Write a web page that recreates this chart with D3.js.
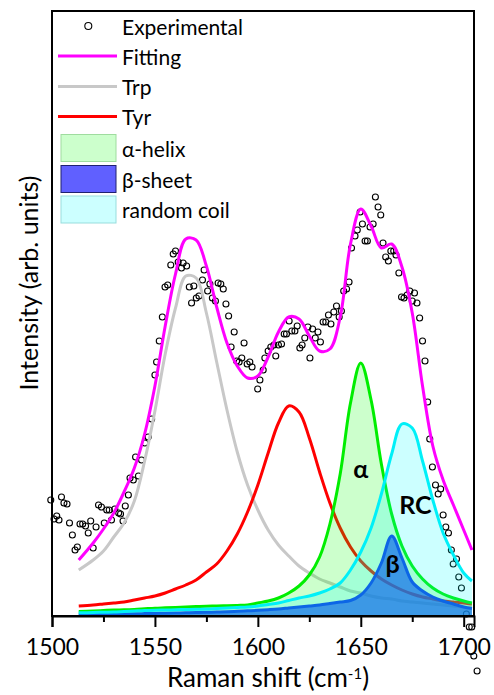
<!DOCTYPE html>
<html>
<head>
<meta charset="utf-8">
<script src="https://cdn.jsdelivr.net/npm/d3@7/dist/d3.min.js"></script>
<style>
  html, body { margin: 0; padding: 0; background: #fff; }
  svg { display: block; }
  text { font-family: Lato, "Open Sans", sans-serif; fill: #000; }
</style>
</head>
<body>
<svg id="chart" width="494" height="695"></svg>
<script>
// ---------- data ----------
const xTicks = [1500, 1550, 1600, 1650, 1700];
const xMinorTicks = [1525, 1575, 1625, 1675];

// experimental points
const expX = [1499.4,1501.0,1502.3,1503.4,1504.6,1505.8,1507.3,1508.5,1509.9,1511.2,1512.3,1513.6,1514.9,1516.3,1517.6,1518.8,1520.0,1521.4,1522.6,1524.0,1525.4,1526.6,1527.8,1528.9,1530.5,1532.4,1533.3,1534.5,1535.6,1537.1,1537.9,1539.5,1540.6,1542.0,1543.5,1545.1,1546.7,1548.4,1550.0,1550.8,1552.1,1553.6,1554.9,1556.2,1557.7,1558.9,1560.0,1561.3,1562.9,1563.7,1565.4,1566.7,1567.8,1568.9,1570.1,1571.4,1573.1,1573.9,1575.6,1576.7,1577.9,1579.4,1580.7,1582.0,1583.2,1584.5,1585.8,1587.0,1588.5,1589.7,1590.9,1592.2,1593.3,1594.8,1596.1,1597.2,1599.9,1601.0,1602.6,1603.4,1605.0,1606.3,1607.8,1608.7,1610.0,1611.5,1612.8,1613.9,1615.2,1616.5,1618.0,1619.1,1620.4,1621.5,1622.8,1624.3,1625.3,1626.6,1627.9,1629.2,1630.4,1631.7,1633.0,1634.3,1635.5,1636.9,1638.2,1639.5,1640.6,1641.7,1643.1,1644.3,1645.5,1647.2,1648.3,1649.7,1650.8,1652.1,1653.2,1654.5,1656.0,1657.1,1658.4,1659.7,1660.8,1662.1,1663.4,1664.6,1666.0,1667.1,1668.5,1669.8,1671.0,1672.5,1673.8,1675.0,1676.1,1677.3,1678.6,1680.0,1681.2,1682.5,1683.5,1684.8,1686.3,1687.6,1688.8,1690.0,1691.3,1692.6,1694.0,1694.9,1696.5,1697.6,1698.9,1701.3,1702.7,1703.9,1704.9,1706.5];
const expY = [1.16,0.97,1.00,0.96,1.19,1.13,1.12,0.93,0.81,0.66,0.69,0.92,0.92,0.90,0.83,0.95,0.68,0.89,1.11,1.09,0.93,1.06,1.06,0.96,1.07,1.03,1.02,0.95,1.10,1.21,1.38,1.36,1.59,1.40,1.56,1.73,1.79,1.97,2.41,2.54,2.75,2.99,3.29,3.31,3.51,3.62,3.65,3.54,3.48,3.53,3.50,3.29,3.13,3.30,3.18,3.20,3.36,3.46,3.25,3.32,3.18,3.15,3.33,3.32,3.27,3.12,3.00,2.69,2.84,2.55,2.54,2.58,2.73,2.52,2.54,2.49,2.27,2.36,2.46,2.58,2.65,2.69,2.71,2.60,2.71,2.72,2.82,2.82,2.95,2.85,2.85,2.90,2.68,2.71,2.78,2.89,2.58,2.87,2.78,2.84,2.74,2.94,2.94,3.01,2.92,3.04,3.10,2.99,3.05,3.25,3.27,3.34,3.68,3.80,3.86,4.04,3.92,3.75,3.75,3.89,3.92,4.19,4.09,4.01,3.73,3.59,3.55,3.65,3.65,3.61,3.43,3.19,3.18,3.21,3.25,3.15,3.23,3.13,2.98,2.75,2.55,2.14,1.77,1.49,1.31,1.22,1.27,1.01,0.89,0.83,0.66,0.52,0.57,0.39,0.28,0.02,-0.11,-0.11,-0.40,-0.55];

// fitted curves, sampled on a shared wavenumber grid
const fitX = [1513,1520,1525,1530,1535,1540,1545,1550,1555,1560,1565,1570,1575,1580,1585,1590,1595,1600,1605,1610,1615,1620,1625,1630,1635,1640,1645,1650,1655,1660,1665,1670,1675,1680,1685,1690,1695,1700,1704];
const fitting = [0.56,0.73,0.87,1.03,1.24,1.48,1.82,2.30,2.90,3.42,3.77,3.76,3.50,3.09,2.73,2.50,2.38,2.40,2.59,2.84,2.99,2.97,2.80,2.65,2.67,2.99,3.72,4.07,3.90,3.68,3.72,3.49,3.03,2.30,1.70,1.36,1.11,0.86,0.66];
const trp = [0.46,0.56,0.65,0.79,0.93,1.15,1.55,2.05,2.62,3.08,3.40,3.38,3.03,2.54,2.06,1.64,1.31,1.06,0.86,0.71,0.60,0.50,0.43,0.37,0.33,0.29,0.25,0.23,0.20,0.18,0.17,0.15,0.14,0.13,0.12,0.11,0.10,0.09,0.09];
const tyr = [0.10,0.11,0.12,0.13,0.14,0.16,0.18,0.20,0.23,0.27,0.31,0.36,0.44,0.52,0.65,0.82,1.04,1.31,1.63,1.93,2.10,2.04,1.78,1.44,1.13,0.88,0.69,0.55,0.45,0.37,0.31,0.26,0.22,0.19,0.17,0.15,0.14,0.13,0.12];
const alphaHelix = [0.045,0.05,0.055,0.06,0.062,0.066,0.072,0.078,0.082,0.086,0.09,0.094,0.098,0.10,0.103,0.106,0.11,0.13,0.15,0.18,0.23,0.30,0.41,0.59,0.92,1.42,2.13,2.53,2.16,1.52,1.02,0.70,0.50,0.37,0.28,0.22,0.18,0.15,0.13];
const betaSheet = [0.015,0.017,0.018,0.02,0.021,0.022,0.024,0.026,0.028,0.03,0.032,0.034,0.037,0.04,0.043,0.047,0.052,0.057,0.063,0.07,0.08,0.09,0.10,0.11,0.125,0.14,0.155,0.21,0.33,0.53,0.80,0.58,0.34,0.25,0.19,0.15,0.12,0.09,0.075];
const randomCoil = [0.032,0.035,0.038,0.04,0.045,0.05,0.055,0.058,0.06,0.062,0.065,0.068,0.07,0.075,0.08,0.085,0.09,0.10,0.115,0.13,0.155,0.18,0.20,0.23,0.27,0.33,0.46,0.64,0.88,1.22,1.62,1.92,1.88,1.55,1.16,0.83,0.61,0.43,0.35];

const legendLabels = ["Experimental", "Fitting", "Trp", "Tyr", "α-helix", "β-sheet", "random coil"];

// ---------- layout ----------
const svg = d3.select("#chart");
const L = 52, R = 474, T = 11, B = 616;
const x = d3.scaleLinear().domain([1500, 1705]).range([L, R]);
const y = d3.scaleLinear().domain([0, 6.05]).range([B, T]);

const pts = arr => fitX.map((d, i) => [d, arr[i]]);
const line = d3.line().x(d => x(d[0])).y(d => y(d[1])).curve(d3.curveCatmullRom.alpha(0.5));
const area = d3.area().x(d => x(d[0])).y0(y(0)).y1(d => y(d[1])).curve(d3.curveCatmullRom.alpha(0.5));

const COL = {
  fit: "#ff00ff", trp: "#c8c8c8", tyr: "#ff0000",
  a: "#00ee00", b: "#1040e0", rc: "#00f0f8"
};

const g = svg.append("g");

// experimental points (bottom layer)
g.selectAll("circle.exp").data(expX.map((d, i) => [d, expY[i]])).enter()
  .append("circle").attr("class", "exp")
  .attr("cx", d => x(d[0])).attr("cy", d => y(d[1])).attr("r", 3)
  .attr("fill", "none").attr("stroke", "#000").attr("stroke-width", 1.1);

// fitting, Trp, Tyr
g.append("path").attr("d", line(pts(fitting))).attr("fill", "none").attr("stroke", COL.fit).attr("stroke-width", 3);
g.append("path").attr("d", line(pts(trp))).attr("fill", "none").attr("stroke", COL.trp).attr("stroke-width", 3);
g.append("path").attr("d", line(pts(tyr))).attr("fill", "none").attr("stroke", COL.tyr).attr("stroke-width", 3);

// alpha helix
g.append("path").attr("d", area(pts(alphaHelix))).attr("fill", "#00ff00").attr("fill-opacity", 0.2);
g.append("path").attr("d", line(pts(alphaHelix))).attr("fill", "none").attr("stroke", COL.a).attr("stroke-width", 3);
// beta sheet
g.append("path").attr("d", area(pts(betaSheet))).attr("fill", "#1a4ee6").attr("fill-opacity", 0.72);
g.append("path").attr("d", line(pts(betaSheet))).attr("fill", "none").attr("stroke", COL.b).attr("stroke-width", 3);
// random coil
g.append("path").attr("d", area(pts(randomCoil))).attr("fill", "#00ffff").attr("fill-opacity", 0.2);
g.append("path").attr("d", line(pts(randomCoil))).attr("fill", "none").attr("stroke", COL.rc).attr("stroke-width", 3);

// annotations
const ann = [["α", 1650, 1.48], ["RC", 1676.5, 1.12], ["β", 1665.5, 0.53]];
g.selectAll("text.ann").data(ann).enter().append("text").attr("class", "ann")
  .attr("x", d => x(d[1])).attr("y", d => y(d[2]))
  .attr("text-anchor", "middle").attr("dominant-baseline", "central")
  .attr("font-weight", "bold").attr("font-size", 25).text(d => d[0]);

// frame
svg.append("rect").attr("x", L).attr("y", T).attr("width", R - L).attr("height", B - T)
  .attr("fill", "none").attr("stroke", "#000").attr("stroke-width", 2);

// x axis
const ax = svg.append("g").attr("transform", `translate(0,${B})`)
  .call(d3.axisBottom(x).tickValues(xTicks).tickFormat(d3.format("d")).tickSize(11).tickPadding(12));
ax.select(".domain").attr("stroke-width", 2);
ax.selectAll(".tick line").attr("stroke-width", 2);
ax.selectAll(".tick text").attr("font-size", 23).attr("font-family", "Lato");
svg.append("g").attr("transform", `translate(0,${B})`)
  .call(d3.axisBottom(x).tickValues(xMinorTicks).tickFormat("").tickSize(6))
  .call(s => s.select(".domain").remove())
  .selectAll(".tick line").attr("stroke-width", 2);

// axis titles
const xt = svg.append("text").attr("x", 268).attr("y", 687).attr("text-anchor", "middle").attr("font-size", 26);
xt.append("tspan").text("Raman shift (cm");
xt.append("tspan").attr("dy", -8).attr("font-size", 15).text("-1");
xt.append("tspan").attr("dy", 8).text(")");
svg.append("text").attr("transform", "translate(38,283) rotate(-90)").attr("text-anchor", "middle")
  .attr("font-size", 25).text("Intensity (arb. units)");

// legend
const lg = svg.append("g");
const rowY = [26, 56, 86.5, 116.5, 148, 179, 209.5];
lg.append("circle").attr("cx", 88.3).attr("cy", rowY[0]).attr("r", 3.5).attr("fill", "none").attr("stroke", "#000").attr("stroke-width", 1.1);
[[COL.fit, 1], [COL.trp, 2], [COL.tyr, 3]].forEach(([c, i]) => {
  lg.append("line").attr("x1", 58).attr("x2", 117).attr("y1", rowY[i]).attr("y2", rowY[i]).attr("stroke", c).attr("stroke-width", 3);
});
[["#ccffcc", "#9fdc9f", 4], ["#6060ff", "#202070", 5], ["#ccffff", "#99dddd", 6]].forEach(([f, s, i]) => {
  lg.append("rect").attr("x", 61).attr("y", rowY[i] - 13.5).attr("width", 55).attr("height", 27)
    .attr("fill", f).attr("stroke", s).attr("stroke-width", 1);
});
lg.selectAll("text.lg").data(legendLabels).enter().append("text").attr("class", "lg")
  .attr("x", 122).attr("y", (d, i) => rowY[i]).attr("dominant-baseline", "central")
  .attr("font-size", 21).text(d => d);
</script>
</body>
</html>
